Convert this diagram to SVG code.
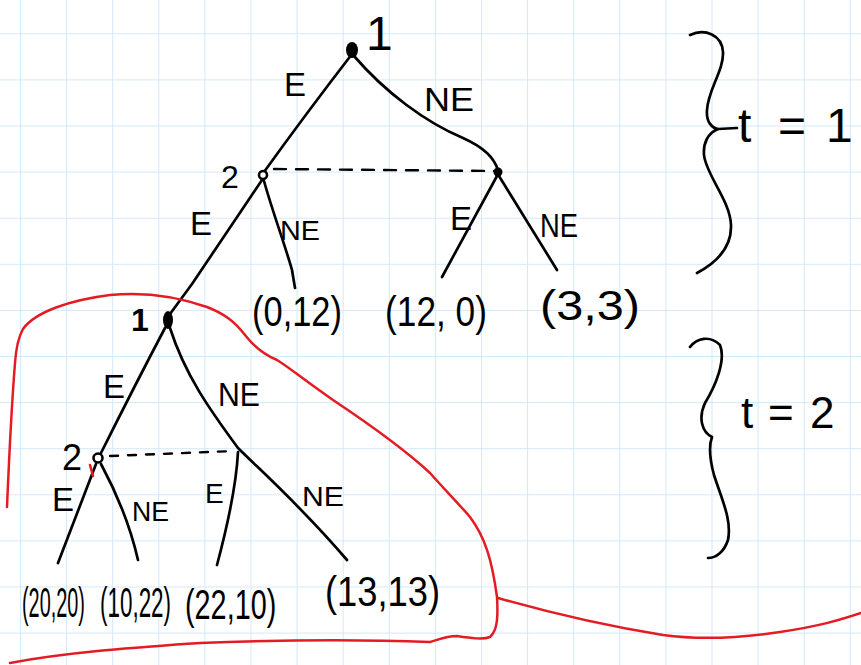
<svg xmlns="http://www.w3.org/2000/svg" width="861" height="665" viewBox="0 0 861 665">
<style>
.ln{fill:none;stroke:#000;stroke-width:2.7;stroke-linecap:round;stroke-linejoin:round}
.dash{fill:none;stroke:#000;stroke-width:2.4;stroke-linecap:round}
.red{fill:none;stroke:#e41b23;stroke-width:2.5;stroke-linecap:round;stroke-linejoin:round}
text{font-family:"Liberation Sans","DejaVu Sans",sans-serif;fill:#000}
.lab{font-size:33px}
.sm{font-size:28px}
.pay{font-size:42px}
</style>
<defs>
<pattern id="grid" x="20" y="33.3" width="46.1" height="46.1" patternUnits="userSpaceOnUse">
<path d="M0,0 H46.1 M0,0 V46.1" fill="none" stroke="#d2e9fa" stroke-width="2"/>
</pattern>
</defs>
<rect width="861" height="665" fill="#fff"/>
<rect width="861" height="665" fill="url(#grid)"/>

<g id="connectors">
<path class="ln" d="M352,54 Q305,115 264,172"/>
<path class="ln" d="M354,56 C385,92 425,122 463,138 C485,148 494,158 498,170"/>
<path class="ln" d="M262,180 L192,284 L170,314"/>
<path class="ln" d="M264,181 C272,210 285,245 292,270 L295,288"/>
<path class="dash" d="M274,169 L494,171" stroke-dasharray="12 10"/>
<path class="ln" d="M497,176 L442,277"/>
<path class="ln" d="M499,176 L557,270"/>
<path class="ln" d="M165,328 Q135,385 101,453"/>
<path class="ln" d="M170,328 C185,375 210,410 238,448 C260,470 300,505 347,560"/>
<path class="dash" d="M110,456 L234,451" stroke-dasharray="8 10"/>
<path class="ln" d="M238,452 C236,490 225,535 217,565"/>
<path class="ln" d="M96,464 L58,563"/>
<path class="ln" d="M101,464 C115,490 130,525 138,560"/>
</g>

<g id="edge-labels">
<text class="lab" x="284" y="96">E</text>
<text class="lab" x="424" y="111" textLength="50" lengthAdjust="spacingAndGlyphs">NE</text>
<text class="lab" x="190" y="235">E</text>
<text class="sm" x="280" y="240" textLength="40" lengthAdjust="spacingAndGlyphs">NE</text>
<text class="lab" x="450" y="230">E</text>
<text class="lab" x="540" y="237" textLength="38" lengthAdjust="spacingAndGlyphs">NE</text>
<text class="lab" x="103" y="398">E</text>
<text class="lab" x="218" y="406" textLength="42" lengthAdjust="spacingAndGlyphs">NE</text>
<text class="lab" x="52" y="511">E</text>
<text class="sm" x="132" y="521" textLength="37" lengthAdjust="spacingAndGlyphs">NE</text>
<text class="sm" x="205" y="503">E</text>
<text class="sm" x="302" y="506" textLength="42" lengthAdjust="spacingAndGlyphs">NE</text>
</g>

<g id="n-root">
<ellipse cx="352" cy="50" rx="6" ry="8" fill="#000"/>
<text x="366" y="50" font-size="48">1</text>
</g>
<g id="n-2a">
<circle cx="263" cy="175" r="4" fill="#fff" stroke="#000" stroke-width="2.6"/>
<text x="221" y="188" font-size="32">2</text>
</g>
<g id="n-2b">
<circle cx="498" cy="172" r="4.5" fill="#000"/>
</g>
<g id="n-1b">
<ellipse cx="168" cy="320" rx="5" ry="9" fill="#000"/>
<text x="131" y="331" font-size="32" font-weight="bold">1</text>
</g>
<g id="n-2c">
<circle cx="98" cy="458" r="4.5" fill="#fff" stroke="#000" stroke-width="2.6"/>
<text x="62" y="470" font-size="36">2</text>
</g>

<g id="t-0-12"><text class="pay" x="252" y="326" textLength="90" lengthAdjust="spacingAndGlyphs">(0,12)</text></g>
<g id="t-12-0"><text class="pay" x="385" y="326" textLength="102" lengthAdjust="spacingAndGlyphs">(12, 0)</text></g>
<g id="t-3-3"><text class="pay" x="540" y="320" font-size="46" textLength="100" lengthAdjust="spacingAndGlyphs">(3,3)</text></g>
<g id="t-20-20"><text class="pay" x="0" y="0" transform="translate(22,617) scale(0.473,1)">(20,20)</text></g>
<g id="t-10-22"><text class="pay" x="0" y="0" transform="translate(100,617) scale(0.534,1)">(10,22)</text></g>
<g id="t-22-10"><text class="pay" x="0" y="0" font-size="46" transform="translate(185,619) scale(0.686,1)">(22,10)</text></g>
<g id="t-13-13"><text class="pay" x="325" y="606" font-size="48" textLength="115" lengthAdjust="spacingAndGlyphs">(13,13)</text></g>

<g id="brace-t1">
<path class="ln" d="M690,35 C705,28 722,35 723,52 C724,70 708,90 707,110 C706,122 712,128 718,129 C708,133 703,143 704,155 C706,175 730,200 731,225 C732,250 712,265 697,273"/>
<path class="ln" d="M718,129 L737,128"/>
<text x="738 752 778 808 826" y="142" font-size="48">t = 1</text>
</g>
<g id="brace-t2">
<path class="ln" d="M690,347 C697,338 710,335 720,345 C726,360 716,385 705,403 C698,418 702,432 712,437 C709,445 710,460 714,475 C722,500 732,520 728,540 C724,552 716,558 708,558"/>
<text x="741 755 768 796 810" y="428" font-size="44">t = 2</text>
</g>

<g id="red-region">
<path class="red" d="M7,507 C9,460 12,400 15,363 C16,348 18,338 23,329 C35,312 70,300 110,295 C140,292 170,294 207,307 C225,314 235,322 245,335 C255,348 265,355 277,360 C290,368 300,377 333,400 C360,418 400,445 430,473 C445,490 460,505 470,517 C485,537 492,560 497,597 C498,615 498,630 490,637 C483,640 470,638 457,636 C445,636 438,640 430,642 C380,640 300,639 200,643 C130,648 70,652 10,663"/>
<path class="red" d="M498,598 C540,610 600,625 663,635 C700,640 740,638 780,632 C820,626 840,620 861,613"/>
<path class="red" stroke-width="1.2" d="M90,465 L93,476"/>
</g>
</svg>
